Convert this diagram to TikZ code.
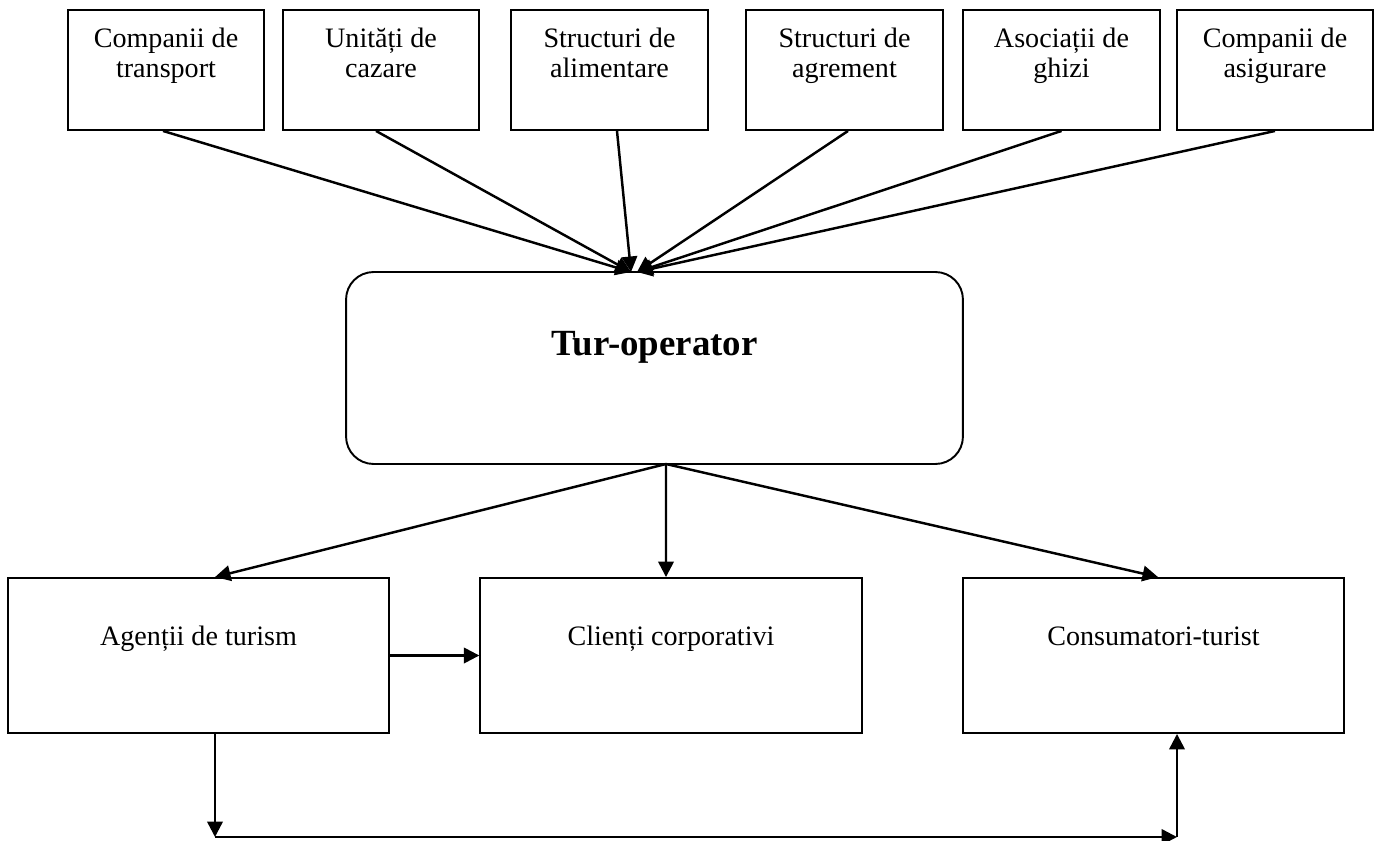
\documentclass[tikz,border=0pt]{standalone}
\usepackage{fontspec}
\setmainfont{Liberation Serif}
\usetikzlibrary{arrows.meta}
\begin{document}
\begin{tikzpicture}[x=0.02cm,y=-0.02cm,
  box/.style={draw, line width=1.1pt, minimum width=3.93cm, minimum height=2.4cm, inner sep=0pt},
  lowbox/.style={draw, line width=1.1pt, minimum width=7.63cm, minimum height=3.1cm, inner sep=0pt},
  opbox/.style={draw, line width=1.1pt, rounded corners=0.55cm, minimum width=12.34cm, minimum height=3.84cm, inner sep=0pt},
  lbl/.style={anchor=base, inner sep=0pt, font=\fontsize{16}{16.6}\selectfont},
  conn/.style={line width=1.4pt, -{Triangle[length=0.31cm,width=0.31cm]}}]
\useasboundingbox (0,0) rectangle (1376,841);

% suppliers
\node[box] (b1) at (166,70) {};
\node[box] (b2) at (381,70) {};
\node[box] (b3) at (609.5,70) {};
\node[box] (b4) at (844.5,70) {};
\node[box] (b5) at (1061.5,70) {};
\node[box] (b6) at (1275,70) {};
\node[lbl] (t1) at (166,48) {\parbox[t]{4cm}{\centering Companii de\\transport}};
\node[lbl] (t2) at (381,48) {\parbox[t]{4cm}{\centering Unități de\\cazare}};
\node[lbl] (t3) at (609.5,48) {\parbox[t]{4cm}{\centering Structuri de\\alimentare}};
\node[lbl] (t4) at (844.5,48) {\parbox[t]{4cm}{\centering Structuri de\\agrement}};
\node[lbl] (t5) at (1061.5,48) {\parbox[t]{4cm}{\centering Asociații de\\ghizi}};
\node[lbl] (t6) at (1275,48) {\parbox[t]{4cm}{\centering Companii de\\asigurare}};

% tour operator
\node[opbox] (op) at (654.5,368) {};
\node[anchor=base, inner sep=0pt, font=\fontsize{21}{25}\selectfont\bfseries] (opt) at (654.5,356) {Tur-operator};

% distribution
\node[lowbox] (ag) at (198.5,655.5) {};
\node[lowbox] (cl) at (671,655.5) {};
\node[lowbox] (cs) at (1153.5,655.5) {};
\node[lbl] (agt) at (198.5,645) {Agenții de turism};
\node[lbl] (clt) at (671,645) {Clienți corporativi};
\node[lbl] (cst) at (1153.5,645) {Consumatori-turist};

% hub points on the operator box
\coordinate (inL) at (631,272);
\coordinate (inR) at (637,272);
\coordinate (out) at (666,464);
\coordinate (low1) at (215,837);
\coordinate (low2) at (1177,837);

\draw[conn] ([xshift=-0.06cm]b1.south) -- (inL);
\draw[conn] ([xshift=-0.1cm]b2.south) -- (inL);
\draw[conn] ([xshift=0.15cm]b3.south) -- (inL);
\draw[conn] ([xshift=0.07cm]b4.south) -- (inR);
\draw[conn] (b5.south) -- (inR);
\draw[conn] (b6.south) -- (inR);

\draw[conn] (out) -- ([xshift=0.33cm]ag.north);
\draw[conn] (out) -- ([xshift=-0.1cm]cl.north);
\draw[conn] (out) -- ([xshift=0.09cm]cs.north);

\draw[conn] (ag.east) -- (cl.west);
\draw[conn] (ag.south -| low1) -- (low1);
\draw[conn] (low1) -- (low2);
\draw[conn] (low2) -- (cs.south -| low2);
\end{tikzpicture}
\end{document}
